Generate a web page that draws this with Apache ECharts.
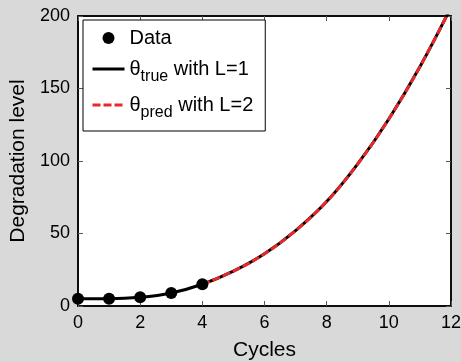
<!DOCTYPE html>
<html>
<head>
<meta charset="utf-8">
<script src="https://cdn.jsdelivr.net/npm/echarts@6/dist/echarts.min.js"></script>
<style>
  html, body { margin: 0; padding: 0; background: #d9d9d9; }
  #chart { width: 461px; height: 362px; }
</style>
</head>
<body>
<div id="chart"></div>
<script>
// observed degradation data
var dataCycles = [0, 1, 2, 3, 4];
var dataLevels = [5, 5, 6, 9, 15];
// true curve (L=1)
var trueCycles = [0, 1, 2, 3, 4, 5, 6, 7, 8, 9, 10, 11, 12];
var trueLevels = [5, 5, 6, 9, 15, 24, 36, 52, 72, 98, 129, 165, 206];
// predicted curve (L=2)
var predCycles = [4, 5, 6, 7, 8, 9, 10, 11, 12];
var predLevels = [15, 24, 36, 52, 72, 98, 129, 165, 206];

var font = "'Liberation Sans', Arial, sans-serif";

function pairs(xs, ys) {
  return xs.map(function (x, i) { return [x, ys[i]]; });
}

var chart = echarts.init(document.getElementById("chart"), null, { renderer: "canvas" });

var tickStyle = { show: true, inside: true, length: 5, lineStyle: { color: "#555", width: 1 } };
var lineStyle = { show: true, onZero: false, lineStyle: { color: "#000", width: 1.5 } };
var hideIcon = { opacity: 0 };

var options = {
  backgroundColor: "#d9d9d9",
  animation: false,
  textStyle: { fontFamily: font },
  grid: {
    left: 78,
    right: 10,
    top: 16,
    bottom: 56,
    outerBoundsMode: "none",
    show: true,
    backgroundColor: "#fff",
    borderColor: "#000",
    borderWidth: 1.5,
  },
  legend: {
    orient: "vertical",
    left: 83,
    top: 20,
    padding: [7, 12, 10, 8],
    itemGap: 4,
    itemWidth: 32,
    itemHeight: 12,
    backgroundColor: "#fff",
    borderColor: "#000",
    borderWidth: 1,
    data: [
      { name: "Data" },
      { name: "true", itemStyle: hideIcon, lineStyle: { width: 3 } },
      { name: "pred", itemStyle: hideIcon, lineStyle: { width: 3 } },
    ],
    textStyle: {
      fontFamily: font,
      fontSize: 20,
      lineHeight: 22,
      color: "#000",
      rich: {
        t: { fontFamily: font, fontSize: 20, lineHeight: 22, color: "#000" },
        s: { fontFamily: font, fontSize: 16, lineHeight: 16, color: "#000", padding: [16, 0, 0, 0] },
      },
    },
    formatter: function (name) {
      if (name === "true") return "{t|θ}{s|true}{t| with L=1}";
      if (name === "pred") return "{t|θ}{s|pred}{t| with L=2}";
      return name;
    },
  },
  xAxis: [
    {
      type: "value",
      min: 0,
      max: 12,
      interval: 2,
      name: "Cycles",
      nameLocation: "middle",
      nameGap: 34,
      nameTextStyle: { fontFamily: font, fontSize: 21, color: "#000" },
      axisLine: lineStyle,
      axisTick: tickStyle,
      axisLabel: { fontFamily: font, fontSize: 18, color: "#000", margin: 8 },
      splitLine: { show: false },
    },
    {
      type: "value",
      position: "top",
      min: 0,
      max: 12,
      interval: 2,
      axisLine: lineStyle,
      axisTick: tickStyle,
      axisLabel: { show: false },
      splitLine: { show: false },
    },
  ],
  yAxis: [
    {
      type: "value",
      min: 0,
      max: 200,
      interval: 50,
      name: "Degradation level",
      nameLocation: "middle",
      nameGap: 46,
      nameTextStyle: { fontFamily: font, fontSize: 21, color: "#000" },
      axisLine: lineStyle,
      axisTick: tickStyle,
      axisLabel: { fontFamily: font, fontSize: 18, color: "#000", margin: 8 },
      splitLine: { show: false },
    },
    {
      type: "value",
      position: "right",
      min: 0,
      max: 200,
      interval: 50,
      axisLine: lineStyle,
      axisTick: tickStyle,
      axisLabel: { show: false },
      splitLine: { show: false },
    },
  ],
  series: [
    {
      name: "true",
      type: "line",
      data: pairs(trueCycles, trueLevels),
      smooth: 0.4,
      showSymbol: false,
      symbol: "none",
      color: "#000",
      lineStyle: { color: "#000", width: 3 },
      z: 2,
    },
    {
      name: "pred",
      type: "line",
      data: pairs(predCycles, predLevels),
      smooth: 0.4,
      showSymbol: false,
      symbol: "none",
      color: "#e8282a",
      lineStyle: { color: "#e8282a", width: 3, type: [8, 3] },
      z: 3,
    },
    {
      name: "Data",
      type: "scatter",
      data: pairs(dataCycles, dataLevels),
      symbol: "circle",
      symbolSize: 12,
      color: "#000",
      itemStyle: { color: "#000", opacity: 1 },
      z: 4,
    },
  ],
};

chart.setOption(options);
</script>
</body>
</html>
